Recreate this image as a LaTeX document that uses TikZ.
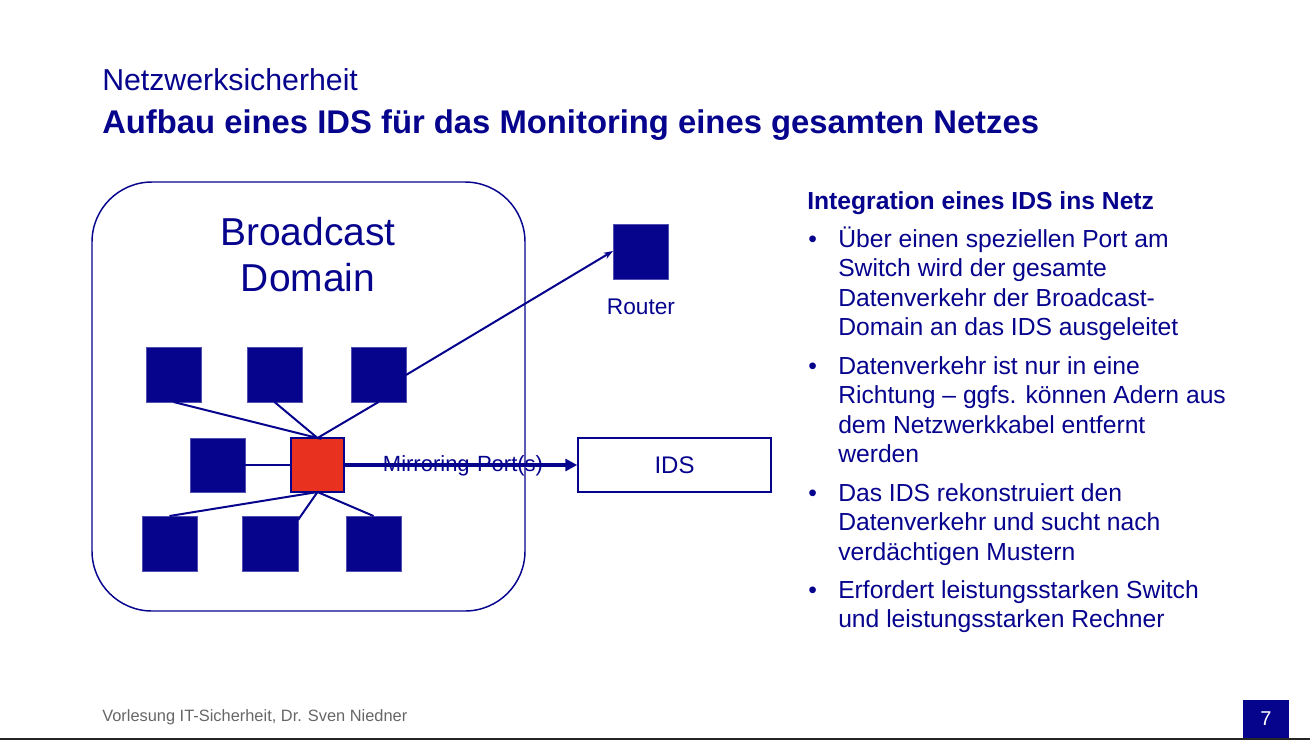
\documentclass[tikz,border=0pt]{standalone}
\usepackage{fontspec}
\setmainfont{Liberation Sans}
\usetikzlibrary{arrows.meta}
\definecolor{navy}{HTML}{06038D}
\definecolor{nred}{HTML}{E8321F}
\definecolor{fgray}{HTML}{666666}
\newcommand{\blines}[1]{\parbox[t]{12cm}{\raggedright #1}}
\tikzset{
  sq/.style={fill=navy, draw=navy!70, line width=0.6pt},
  link/.style={draw=navy, line width=1.5pt},
  bul/.style={anchor=base west, inner sep=0pt, text=navy, font=\fontsize{18.5}{22.2}\selectfont},
}
\begin{document}
\begin{tikzpicture}[x=0.75pt,y=-0.75pt]
\useasboundingbox (0,0) rectangle (1310,740);
% titles
\node[anchor=base west, inner sep=0pt, text=navy, font=\fontsize{22.7}{27}\selectfont] (t1) at (102,90) {Netzwerksicherheit};
\node[anchor=base west, inner sep=0pt, text=navy, font=\fontsize{24.6}{29}\selectfont\bfseries] (t2) at (102,133) {Aufbau eines IDS für das Monitoring eines gesamten Netzes};
% broadcast domain
\draw[navy, line width=1.1pt, rounded corners=45pt] (92,182) rectangle (525,611);
\node[text=navy, align=center, font=\fontsize{29.2}{34.5}\selectfont] (bd) at (308,255) {Broadcast\\Domain};
% squares
\path[sq] (146,347) rectangle (201,402);
\coordinate (a) at (173.5,402);
\path[sq] (247,347) rectangle (302,402);
\coordinate (b) at (274.5,402);
\path[sq] (351,347) rectangle (406,402);
\coordinate (c) at (378.5,402);
\coordinate (cr) at (406,375);
\path[sq] (190,438) rectangle (245,492);
\coordinate (d) at (245,465);
\path[fill=nred, draw=navy, line width=1pt] (291,438) rectangle (344,492);
\coordinate (st) at (317.5,438);
\coordinate (sb) at (317.5,492);
\coordinate (sl) at (291,465);
\coordinate (sr) at (344,465);
\path[sq] (142,516) rectangle (197,571);
\coordinate (e) at (169.5,516);
\path[sq] (242,516) rectangle (298,571);
\coordinate (f) at (298,520);
\path[sq] (346,516) rectangle (401,571);
\coordinate (g) at (373.5,516);
% router
\path[sq] (613,224) rectangle (668,279);
\coordinate (rl) at (613,251);
\node[text=navy, font=\fontsize{17}{20}\selectfont] (rt) at (641,307) {Router};
% IDS
\node[draw=navy, line width=1.1pt, minimum width=193*0.75pt, minimum height=54*0.75pt, inner sep=0pt, text=navy, font=\fontsize{18}{22}\selectfont] (ids) at (674.5,465) {IDS};
% links
\draw[link] (a) -- (st) -- (b);
\draw[link] (c) -- (st);
\draw[link] (d) -- (sl);
\draw[link] (e) -- (sb) -- (g);
\draw[link] (sb) -- (f);
\draw[link, -{Stealth[length=7pt,width=5pt]}] (cr) -- (rl);
\draw[draw=navy, line width=2.8pt, -{Triangle[length=9pt,width=9pt]}] (sr) -- (ids.west);
\node[text=navy, font=\fontsize{16.5}{19}\selectfont, inner sep=0pt] (mp) at (463,466) {Mirroring-Port(s)};
% right text
\node[anchor=base west, inner sep=0pt, text=navy, font=\fontsize{18.5}{22}\selectfont\bfseries] (h) at (807,209) {Integration eines IDS ins Netz};
\node[bul] (b1d) at (808,247) {•};
\node[bul] (b1) at (838,247) {\blines{Über einen speziellen Port am\\Switch wird der gesamte\\Datenverkehr der Broadcast-\\Domain an das IDS ausgeleitet}};
\node[bul] (b2d) at (808,374) {•};
\node[bul] (b2) at (838,374) {\blines{Datenverkehr ist nur in eine\\Richtung – ggfs. können Adern aus\\dem Netzwerkkabel entfernt\\werden}};
\node[bul] (b3d) at (808,501) {•};
\node[bul] (b3) at (838,501) {\blines{Das IDS rekonstruiert den\\Datenverkehr und sucht nach\\verdächtigen Mustern}};
\node[bul] (b4d) at (808,598) {•};
\node[bul] (b4) at (838,598) {\blines{Erfordert leistungsstarken Switch\\und leistungsstarken Rechner}};
% footer
\node[anchor=base west, inner sep=0pt, text=fgray, font=\fontsize{12.3}{14}\selectfont] (ft) at (102,721) {Vorlesung IT-Sicherheit, Dr. Sven Niedner};
\node[fill=navy, minimum width=46*0.75pt, minimum height=38*0.75pt, inner sep=0pt, text=white, font=\fontsize{15}{18}\selectfont] (pg) at (1266,719) {7};
\draw[black!85, line width=1.5pt] (0,739) -- (1310,739);
\end{tikzpicture}
\end{document}
